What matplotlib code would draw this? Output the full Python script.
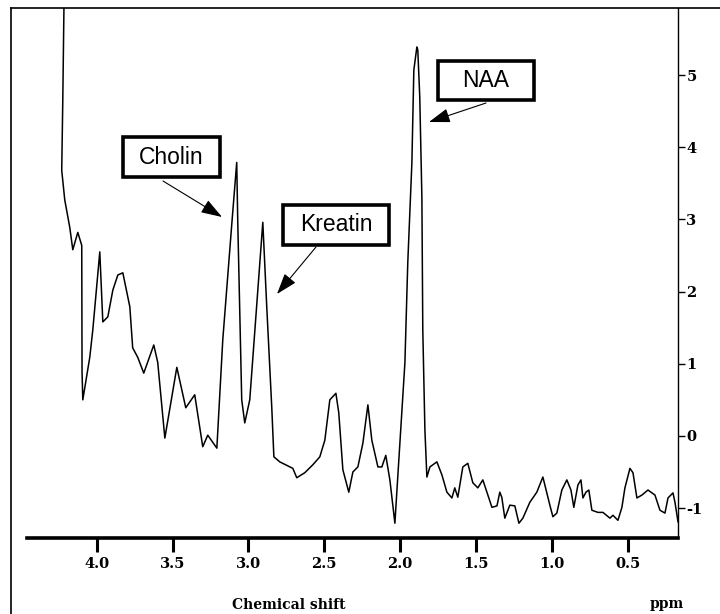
import matplotlib
matplotlib.use("Agg")
import matplotlib.pyplot as plt
from matplotlib.lines import Line2D
from matplotlib.patches import Rectangle

# spectrum (chemical shift in ppm, intensity)
ppm = [4.210, 4.224, 4.231, 4.211, 4.178, 4.158, 4.125, 4.099, 4.097, 4.092,
       4.046, 4.026, 3.980, 3.960, 3.927, 3.894, 3.861, 3.828, 3.782, 3.763,
       3.730, 3.690, 3.624, 3.598, 3.551, 3.472, 3.413, 3.354, 3.301, 3.268,
       3.208, 3.169, 3.109, 3.077, 3.070, 3.044, 3.024, 2.991, 2.938, 2.905,
       2.879, 2.846, 2.832, 2.793, 2.707, 2.681, 2.628, 2.575, 2.529, 2.496,
       2.463, 2.423, 2.404, 2.377, 2.338, 2.311, 2.278, 2.245, 2.212, 2.186,
       2.146, 2.120, 2.094, 2.067, 2.034, 2.001, 1.968, 1.949, 1.922, 1.909,
       1.889, 1.883, 1.870, 1.856, 1.850, 1.836, 1.823, 1.803, 1.757, 1.724,
       1.691, 1.658, 1.639, 1.619, 1.586, 1.553, 1.520, 1.487, 1.454, 1.394,
       1.361, 1.342, 1.329, 1.309, 1.276, 1.243, 1.216, 1.190, 1.144, 1.098,
       1.058, 1.012, 0.992, 0.966, 0.933, 0.900, 0.873, 0.854, 0.827, 0.807,
       0.794, 0.774, 0.755, 0.735, 0.695, 0.662, 0.616, 0.596, 0.563, 0.537,
       0.517, 0.484, 0.464, 0.438, 0.405, 0.365, 0.319, 0.286, 0.253, 0.233,
       0.200, 0.187, 0.167]
intensity = [7.00, 4.65, 3.68, 3.27, 2.89, 2.58, 2.82, 2.64, 0.88, 0.50,
             1.09, 1.47, 2.55, 1.58, 1.65, 2.02, 2.23, 2.26, 1.79, 1.22,
             1.09, 0.87, 1.26, 1.02, -0.03, 0.95, 0.39, 0.57, -0.15, 0.01,
             -0.17, 1.33, 2.95, 3.79, 2.95, 0.50, 0.18, 0.50, 2.02, 2.96,
             1.79, 0.40, -0.29, -0.36, -0.45, -0.58, -0.51, -0.40, -0.29, -0.06,
             0.50, 0.59, 0.32, -0.47, -0.78, -0.50, -0.43, -0.10, 0.43, -0.06,
             -0.43, -0.43, -0.27, -0.61, -1.21, -0.10, 1.01, 2.40, 3.78, 5.07,
             5.39, 5.35, 4.70, 3.31, 1.47, 0.08, -0.57, -0.43, -0.36, -0.54,
             -0.78, -0.86, -0.72, -0.85, -0.43, -0.38, -0.65, -0.72, -0.61, -0.99,
             -0.97, -0.78, -0.85, -1.14, -0.96, -0.97, -1.21, -1.14, -0.92, -0.78,
             -0.57, -0.96, -1.12, -1.07, -0.75, -0.61, -0.75, -0.99, -0.68, -0.61,
             -0.86, -0.78, -0.75, -1.03, -1.06, -1.06, -1.14, -1.10, -1.17, -0.99,
             -0.72, -0.45, -0.51, -0.86, -0.82, -0.75, -0.82, -1.03, -1.07, -0.86,
             -0.79, -0.92, -1.19]

xticks = [4.0, 3.5, 3.0, 2.5, 2.0, 1.5, 1.0, 0.5]
yticks = [-1, 0, 1, 2, 3, 4, 5]

W, H = 720, 614
fig = plt.figure(figsize=(W / 100, H / 100), dpi=100)
ax = fig.add_axes([27 / W, 1 - 538 / H, (678 - 27) / W, (538 - 8) / H])


def fp(x, y):
    # pixel position (from top-left) -> figure pixels
    return (x, H - y)


ax.plot(ppm, intensity, color="black", lw=1.1)
ax.set_xlim(4.46, 0.167)
ax.set_ylim(-1.415, 5.93)

tick_font = dict(family="DejaVu Serif", weight="bold", size=10.5)
ax.set_xticks(xticks)
ax.set_xticklabels([f"{t:.1f}" for t in xticks], fontdict=tick_font)
ax.set_yticks(yticks)
ax.set_yticklabels([str(t) for t in yticks], fontdict=tick_font)
ax.yaxis.tick_right()
ax.tick_params(axis="x", direction="out", length=10, width=2.2, pad=4)
ax.tick_params(axis="y", direction="out", length=5, width=1, pad=1)

for s in ["top", "left"]:
    ax.spines[s].set_visible(False)
ax.spines["bottom"].set_linewidth(2.6)
ax.spines["right"].set_linewidth(1.0)

# outer frame of the scanned figure
fig.add_artist(Line2D([11 / W, 11 / W], [0, 1 - 8 / H], color="black", lw=1.2))
fig.add_artist(Line2D([11 / W, 1], [1 - 8 / H, 1 - 8 / H], color="black", lw=1.2))

fig.text(232 / W, 1 - 605 / H, "Chemical shift", ha="left", va="center",
         family="DejaVu Serif", weight="bold", size=10)
fig.text(650 / W, 1 - 604 / H, "ppm", ha="left", va="center",
         family="DejaVu Serif", weight="bold", size=10)

# labelled boxes with arrows
boxes = [("Cholin", 123, 137, 220, 177, (163, 181), (222, 217)),
         ("Kreatin", 283, 205, 389, 245, (316, 247), (277, 294)),
         ("NAA", 438, 61, 534, 100, (486, 103), (429, 122))]
for label, x0, y0, x1, y1, start, tip in boxes:
    fig.add_artist(Rectangle((x0 / W, 1 - y1 / H), (x1 - x0) / W, (y1 - y0) / H,
                             transform=fig.transFigure, facecolor="white",
                             edgecolor="black", lw=2.6))
    fig.text((x0 + x1) / 2 / W, 1 - (y0 + y1) / 2 / H, label, ha="center",
             va="center", family="Liberation Sans", size=16.5)
    ax.annotate("", xy=fp(*tip), xycoords="figure pixels",
                xytext=fp(*start), textcoords="figure pixels",
                arrowprops=dict(arrowstyle="-|>,head_length=0.65,head_width=0.22",
                                mutation_scale=20, lw=0.8, color="black",
                                shrinkA=0, shrinkB=0))

fig.savefig("out.png", dpi=100)
